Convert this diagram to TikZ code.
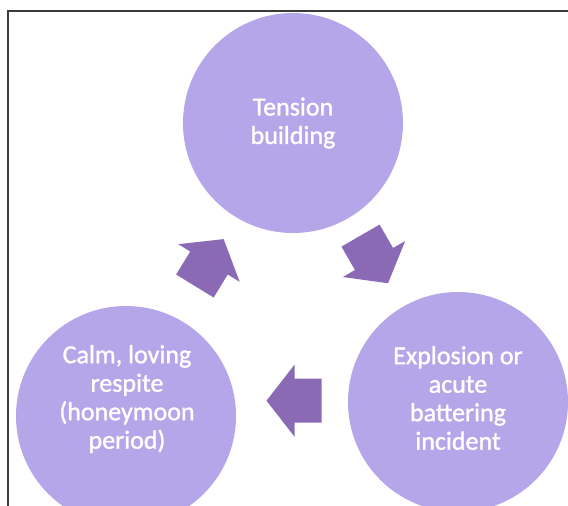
\documentclass[tikz,border=0pt]{standalone}
\usepackage{fontspec}
\setmainfont{Carlito}
\newfontfamily\phasefont[FakeBold=1.2]{Carlito}
\definecolor{circfill}{HTML}{B5A6E9}
\definecolor{arrfill}{HTML}{8A6AB4}
\definecolor{framecol}{HTML}{3A3A3A}
\tikzset{
  phase/.style={circle, fill=circfill, draw=none, minimum size=220pt, inner sep=0pt},
  phasetext/.style={text=white, align=center, font=\phasefont\fontsize{26}{28.5}\selectfont, inner sep=0pt},
  blockarrow/.pic={
    \fill[arrfill] (-27,-22) -- (0,-22) -- (0,-36) -- (28,0) -- (0,36) -- (0,22) -- (-27,22) -- cycle;
  }
}
\begin{document}
\begin{tikzpicture}[x=1pt, y=-1pt]
\useasboundingbox (0,0) rectangle (568,506);
\clip (0,0) rectangle (568,506);
\fill[white] (0,0) rectangle (568,506);
% frame
\draw[framecol, line width=1.4pt] (568,11) -- (8,11) -- (8,506);
% circles
\node[phase] (top) at (293,123) {};
\node[phase] (right) at (458,402) {};
\node[phase] (left) at (126,416) {};
% texts
\node[phasetext] (toptext) at (293,123) {Tension\\building};
\node[phasetext] (righttext) at (458,398) {Explosion or\\acute\\battering\\incident};
\node[phasetext] (lefttext) at (127,399) {Calm, loving\\respite\\(honeymoon\\period)};
% arrows
\pic[rotate=58.5] (arrowA) at (209,263) {blockarrow};
\pic[rotate=-60] (arrowB) at (374,259) {blockarrow};
\pic[rotate=180] (arrowC) at (294.5,400.7) {blockarrow};
\end{tikzpicture}
\end{document}
